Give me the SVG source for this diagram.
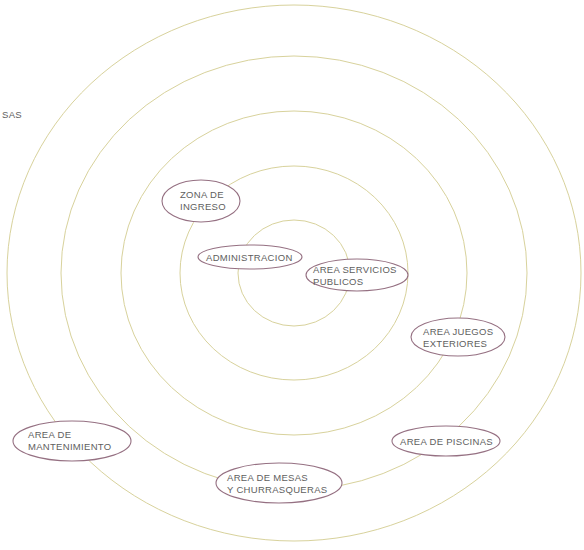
<svg xmlns="http://www.w3.org/2000/svg" width="584" height="550" viewBox="0 0 584 550">
<style>
.ring{fill:none;stroke:#d8d29c;stroke-width:1}
.node{fill:#ffffff;stroke:#957082;stroke-width:1.1}
text{font-family:"Liberation Sans",Arial,sans-serif;font-size:9.5px;fill:#5e5e5e;letter-spacing:0.3px}
</style>
<rect width="584" height="550" fill="#ffffff"/>
<g id="rings">
<ellipse class="ring" cx="294" cy="273" rx="56" ry="53"/>
<ellipse class="ring" cx="294" cy="273" rx="114" ry="107"/>
<ellipse class="ring" cx="294" cy="273" rx="173" ry="162"/>
<ellipse class="ring" cx="294" cy="273" rx="233" ry="217"/>
<ellipse class="ring" cx="294" cy="273" rx="287" ry="268"/>
</g>
<g id="label-sas"><text x="2" y="118">SAS</text></g>
<g id="zona-ingreso">
<ellipse class="node" cx="201" cy="201" rx="39" ry="21"/>
<text x="180" y="198">ZONA DE</text>
<text x="180" y="210">INGRESO</text>
</g>
<g id="administracion">
<ellipse class="node" cx="250" cy="257" rx="52" ry="12"/>
<text x="206" y="260.5">ADMINISTRACION</text>
</g>
<g id="servicios-publicos">
<ellipse class="node" cx="357" cy="275" rx="51" ry="16"/>
<text x="313" y="273">AREA SERVICIOS</text>
<text x="313" y="285">PUBLICOS</text>
</g>
<g id="juegos-exteriores">
<ellipse class="node" cx="458" cy="337" rx="47" ry="19"/>
<text x="423" y="335">AREA JUEGOS</text>
<text x="423" y="347">EXTERIORES</text>
</g>
<g id="mantenimiento">
<ellipse class="node" cx="72" cy="441" rx="59" ry="20"/>
<text x="28" y="438">AREA DE</text>
<text x="28" y="450">MANTENIMIENTO</text>
</g>
<g id="piscinas">
<ellipse class="node" cx="446" cy="441" rx="54" ry="15"/>
<text x="400" y="444.5">AREA DE PISCINAS</text>
</g>
<g id="mesas-churrasqueras">
<ellipse class="node" cx="279" cy="483" rx="63" ry="20"/>
<text x="227" y="481">AREA DE MESAS</text>
<text x="227" y="493">Y CHURRASQUERAS</text>
</g>
</svg>
